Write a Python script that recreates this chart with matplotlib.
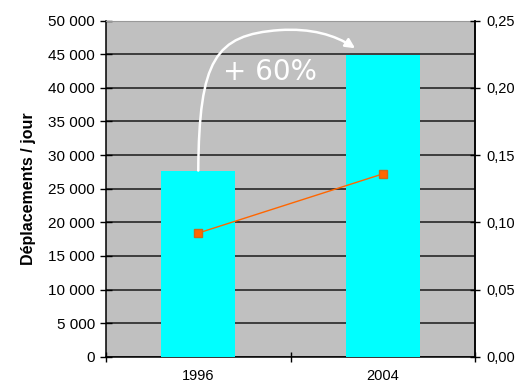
import matplotlib
matplotlib.use('Agg')
import matplotlib.pyplot as plt
from matplotlib.path import Path
from matplotlib.patches import FancyArrowPatch
from matplotlib.ticker import FuncFormatter, MultipleLocator, FixedLocator

# data
years = ['1996', '2004']
trips_per_day = [27700, 44900]        # bars, left axis
ratio = [0.092, 0.136]                # line, right axis
growth_label = '+ 60%'

BAR_COLOR = '#00FFFF'
LINE_COLOR = '#FF6600'
BG_GRAY = '#C0C0C0'

plt.rcParams['font.family'] = ['Liberation Sans', 'DejaVu Sans']

fig = plt.figure(figsize=(5.24, 3.84), dpi=100)
ax = fig.add_axes([106 / 524, 1 - 356.7 / 384, 369 / 524, 336 / 384])
ax.set_facecolor(BG_GRAY)

x = list(range(len(years)))
ax.bar(x, trips_per_day, width=0.4, color=BAR_COLOR, edgecolor='none', zorder=3)

ax.set_xlim(-0.5, len(years) - 0.5)
ax.set_ylim(0, 50000)
ax.yaxis.set_major_locator(MultipleLocator(5000))
ax.yaxis.set_major_formatter(FuncFormatter(lambda v, p: f'{int(v):,}'.replace(',', ' ')))
ax.grid(axis='y', color='#1a1a1a', linewidth=1.1, zorder=1)
ax.set_axisbelow(True)

# category ticks sit between the categories, labels in the middle
ax.xaxis.set_major_locator(FixedLocator([-0.5, 0.5, 1.5]))
ax.xaxis.set_major_formatter(FuncFormatter(lambda v, p: ''))
ax.xaxis.set_minor_locator(FixedLocator(x))
ax.set_xticklabels(years, minor=True)
ax.tick_params(axis='x', which='major', direction='inout', length=7, width=1)
ax.tick_params(axis='x', which='minor', length=0, pad=8.5, labelsize=10.5)
ax.tick_params(axis='y', direction='inout', length=8, width=1, pad=4, labelsize=11)

for side in ['left', 'bottom', 'right']:
    ax.spines[side].set_color('black')
    ax.spines[side].set_linewidth(1.1)
ax.spines['top'].set_color('#999999')

# ratio on the secondary axis
ax2 = ax.twinx()
ax2.plot(x, ratio, color=LINE_COLOR, linewidth=1.0, marker='s', markersize=6,
         markerfacecolor=LINE_COLOR, markeredgecolor='#cc6a1a', zorder=5)
ax2.set_ylim(0, 0.25)
ax2.yaxis.set_major_locator(MultipleLocator(0.05))
ax2.yaxis.set_major_formatter(FuncFormatter(lambda v, p: f'{v:.2f}'.replace('.', ',')))
ax2.tick_params(axis='y', direction='inout', length=7, width=1, pad=5, labelsize=10.5)
ax2.spines['right'].set_color('black')
ax2.spines['right'].set_linewidth(1.1)
ax2.spines['top'].set_visible(False)
ax2.spines['left'].set_visible(False)
ax2.spines['bottom'].set_visible(False)

# curved growth arrow from the 1996 bar to the 2004 bar
x0, y0 = x[0], trips_per_day[0]
x1, y1 = x[1] - 0.15, trips_per_day[1] + 1000
verts = [(x0, y0),
         (x0 + 0.005, 44200), (x0 + 0.09, 47900), (0.44, 48600),
         (0.61, 48900), (0.74, 47900), (x1, y1)]
codes = [Path.MOVETO] + [Path.CURVE4] * 6
arrow = FancyArrowPatch(path=Path(verts, codes), arrowstyle='-|>',
                        mutation_scale=14, color='white', linewidth=1.8, zorder=6)
ax.add_patch(arrow)
ax.text(0.39, 42300, growth_label, color='white', fontsize=20,
        family='DejaVu Sans', ha='center', va='center', zorder=6)

fig.text(29 / 524, 1 - 189 / 384, 'Déplacements / jour', rotation=90,
         ha='center', va='center', fontsize=11.5, fontweight='bold')

fig.savefig('out.png', dpi=100)
